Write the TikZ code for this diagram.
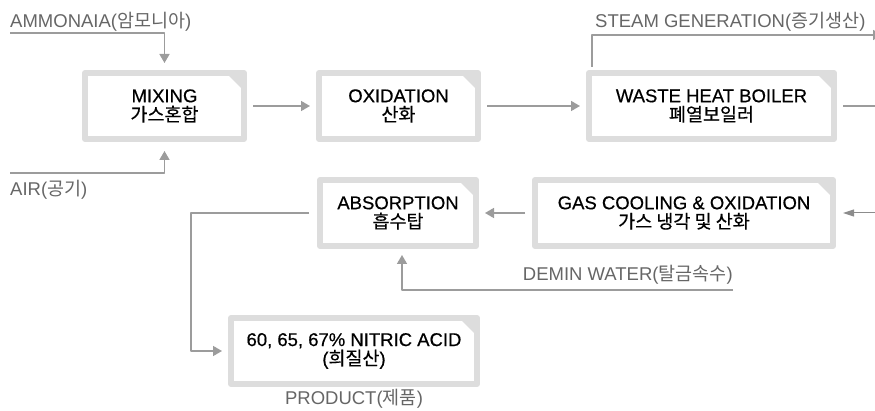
\documentclass[tikz,border=0pt]{standalone}
\usepackage{fontspec}
\setmainfont{Liberation Sans}
\newfontfamily\kr{Noto Sans CJK KR}
\newfontfamily\unitfont[FakeBold=0.5]{Liberation Sans}
\newfontfamily\unitkr[FakeBold=0.5]{Noto Sans CJK KR}
\usetikzlibrary{arrows.meta}
\definecolor{boxgray}{HTML}{DDDDDD}
\definecolor{linegray}{HTML}{9C9C9C}
\definecolor{labelgray}{HTML}{666666}

\begin{document}
\begin{tikzpicture}[x=1pt,y=-1pt,line join=round,>={Triangle[width=10pt,length=9pt]},
	unit/.style={draw=boxgray,line width=6pt,fill=white,minimum height=66pt,align=center,inner sep=0pt,
		font=\unitfont\fontsize{18.5}{19}\selectfont,text=black,
		path picture={\fill[boxgray] ([xshift=-18pt]path picture bounding box.north east) -- (path picture bounding box.north east) -- ([yshift=-18pt]path picture bounding box.north east) -- cycle;}},
	flow/.style={draw=linegray,line width=1.6pt},
	feed/.style={draw=black!45,line width=1pt,-{Triangle[width=7pt,length=11pt]}},
	tag/.style={text=labelgray,font=\fontsize{18.5}{19}\selectfont,inner sep=0pt}]
	\useasboundingbox (0,0) rectangle (875,411);
	\node[unit,minimum width=159pt] (mix) at (164.5,106) {MIXING\\{\unitkr 가스혼합}};
	\node[unit,minimum width=159pt] (oxi) at (398.5,106) {OXIDATION\\{\unitkr 산화}};
	\node[unit,minimum width=245pt] (whb) at (711.5,106) {WASTE HEAT BOILER\\{\unitkr 폐열보일러}};
	\node[unit,minimum width=156pt] (abs) at (398,213) {ABSORPTION\\{\unitkr 흡수탑}};
	\node[unit,minimum width=298pt] (gas) at (684,213) {GAS COOLING \& OXIDATION\\{\unitkr 가스 냉각 및 산화}};
	\node[unit,minimum width=246pt] (prod) at (354,351) {60, 65, 67\% NITRIC ACID\\({\unitkr 희질산})};
	\coordinate (ammonia) at (10,33);
	\coordinate (air) at (10,173);
	\coordinate (steam) at (882,35);
	\coordinate (exit) at (880,106);
	\coordinate (recycle) at (880,213);
	\coordinate (demin) at (733,290);
	\draw[flow,->,shorten >=7pt] (ammonia) -| (mix.north);
	\draw[flow,->,shorten >=9pt] (air) -| (mix.south);
	\draw[flow,->,shorten <=6pt,shorten >=6pt] (mix) -- (oxi);
	\draw[flow,->,shorten <=6pt,shorten >=6pt] (oxi) -- (whb);
	\draw[flow,shorten <=6pt] (whb) -- (exit);
	\draw[flow,->,shorten <=3pt] ([xshift=6pt]whb.north west) |- (steam);
	\draw[feed,shorten >=7pt] (recycle) -- (gas);
	\draw[flow,->,shorten <=7pt,shorten >=6pt] (gas) -- (abs);
	\draw[flow,->,shorten >=6pt] (demin) -| ([xshift=4pt]abs.south);
	\draw[flow,->,shorten <=8pt,shorten >=6pt] (abs.west) -- ++(-126,0) |- (prod.west);
	\node[tag,anchor=west] (ammonialbl) at (10,22) {AMMONAIA({\kr 암모니아})};
	\node[tag,anchor=west] (airlbl) at (10,190) {AIR({\kr 공기})};
	\node[tag,anchor=west] (steamlbl) at (595,22) {STEAM GENERATION({\kr 증기생산})};
	\node[tag,anchor=east] (deminlbl) at (733,275) {DEMIN WATER({\kr 탈금속수})};
	\node[tag] (productlbl) at (354,399) {PRODUCT({\kr 제품})};
\end{tikzpicture}
\end{document}
